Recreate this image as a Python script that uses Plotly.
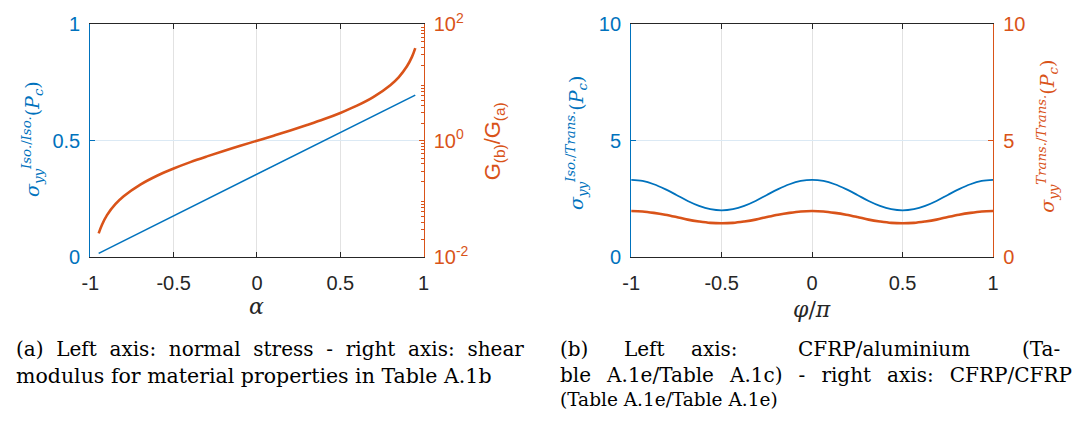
import plotly.graph_objects as go

# ---------------- data ----------------
# (a) normal stress vs alpha (left axis) and shear-modulus ratio (right, log axis)
alpha_stress = [-0.95, -0.5, 0.0, 0.5, 0.95]
stress_iso = [0.016, 0.177, 0.356, 0.536, 0.696]

alpha_g = [-0.95, -0.93, -0.9, -0.85, -0.8, -0.7, -0.6, -0.5, -0.4, -0.3, -0.2, -0.1,
           0.0, 0.1, 0.2, 0.3, 0.4, 0.5, 0.6, 0.7, 0.8, 0.85, 0.9, 0.93, 0.95]
g_ratio = [0.0256, 0.036, 0.0526, 0.081, 0.111, 0.176, 0.25, 0.333, 0.429, 0.538, 0.667, 0.818,
           1.0, 1.22, 1.5, 1.86, 2.33, 3.0, 4.0, 5.67, 9.0, 12.3, 19.0, 27.6, 39.0]

# (b) normal stress vs phi/pi for the two material pairings
phi = [-1.0, -0.9375, -0.875, -0.8125, -0.75, -0.6875, -0.625, -0.5625, -0.5,
       -0.4375, -0.375, -0.3125, -0.25, -0.1875, -0.125, -0.0625, 0.0,
       0.0625, 0.125, 0.1875, 0.25, 0.3125, 0.375, 0.4375, 0.5,
       0.5625, 0.625, 0.6875, 0.75, 0.8125, 0.875, 0.9375, 1.0]
stress_iso_trans = [3.32, 3.27, 3.13, 2.92, 2.67, 2.41, 2.20, 2.06, 2.01,
                    2.06, 2.20, 2.41, 2.67, 2.92, 3.13, 3.27, 3.32,
                    3.27, 3.13, 2.92, 2.67, 2.41, 2.20, 2.06, 2.01,
                    2.06, 2.20, 2.41, 2.67, 2.92, 3.13, 3.27, 3.32]
stress_trans_trans = [1.98, 1.96, 1.90, 1.82, 1.72, 1.61, 1.53, 1.47, 1.45,
                      1.47, 1.53, 1.61, 1.72, 1.82, 1.90, 1.96, 1.98,
                      1.96, 1.90, 1.82, 1.72, 1.61, 1.53, 1.47, 1.45,
                      1.47, 1.53, 1.61, 1.72, 1.82, 1.90, 1.96, 1.98]

x_ticks = [-1, -0.5, 0, 0.5, 1]
x_ticktext = ["-1", "-0.5", "0", "0.5", "1"]

# ---------------- style ----------------
W, H = 1072, 432
BLUE = "#0072BD"
ORANGE = "#D95319"
DARK = "#262626"
GRID = "#e2e2e2"
GRID_BLUE = "#dbe9f4"
SANS = "Liberation Sans"
SERIF = "DejaVu Serif"


def px(x):
    return x / W


def py(y):
    return 1 - y / H


Y_DOM = [py(258), py(11)]
X_DOM_A = [px(82.5), px(420.5)]
X_DOM_B = [px(631), px(998)]

fig = go.Figure()

fig.add_trace(go.Scatter(x=alpha_stress, y=stress_iso, mode="lines",
                         line=dict(color=BLUE, width=1.6), xaxis="x", yaxis="y",
                         showlegend=False))
fig.add_trace(go.Scatter(x=alpha_g, y=g_ratio, mode="lines",
                         line=dict(color=ORANGE, width=2.6, shape="spline"),
                         xaxis="x", yaxis="y2", showlegend=False))
fig.add_trace(go.Scatter(x=phi, y=stress_iso_trans, mode="lines",
                         line=dict(color=BLUE, width=1.8, shape="spline"),
                         xaxis="x2", yaxis="y3", showlegend=False))
fig.add_trace(go.Scatter(x=phi, y=stress_trans_trans, mode="lines",
                         line=dict(color=ORANGE, width=2.6, shape="spline"),
                         xaxis="x2", yaxis="y4", showlegend=False))


def xaxis_style(domain, anchor):
    return dict(domain=domain, anchor=anchor, range=[-1, 1],
                tickmode="array", tickvals=x_ticks, ticktext=x_ticktext,
                ticks="inside", ticklen=5, tickcolor=DARK, tickwidth=1,
                showline=True, linecolor=DARK, linewidth=1, mirror="ticks",
                showgrid=True, gridcolor=GRID, gridwidth=1, zeroline=False,
                tickfont=dict(family=SANS, size=20, color=DARK),
                ticklabelstandoff=8)


def yaxis_style(color, side, rng, tickvals, ticktext, anchor, overlaying=None,
                log=False, grid=False):
    d = dict(domain=Y_DOM, anchor=anchor, side=side, range=rng,
             tickmode="array", tickvals=tickvals, ticktext=ticktext,
             ticks="inside", ticklen=5, tickcolor=color, tickwidth=1,
             showline=True, linecolor=color, linewidth=1.2,
             showgrid=grid, gridcolor=GRID_BLUE, gridwidth=1, zeroline=False,
             tickfont=dict(family=SANS, size=20, color=color),
             ticklabelstandoff=5)
    if overlaying:
        d["overlaying"] = overlaying
    if log:
        d["type"] = "log"
        minor_vals = [m * 10 ** e for e in (-2, -1, 0, 1) for m in range(2, 10)]
        d["minor"] = dict(tickmode="array", tickvals=minor_vals, ticks="inside",
                          ticklen=3, tickcolor=color, tickwidth=1, showgrid=False)
    return d


fig.update_layout(
    width=W, height=H,
    margin=dict(l=0, r=0, t=0, b=0),
    paper_bgcolor="white", plot_bgcolor="white",
    xaxis=xaxis_style(X_DOM_A, "y"),
    xaxis2=xaxis_style(X_DOM_B, "y3"),
    yaxis=yaxis_style(BLUE, "left", [0, 1], [0, 0.5, 1], ["0", "0.5", "1"], "x", grid=True),
    yaxis2=yaxis_style(ORANGE, "right", [-2, 2], [0.01, 1, 100],
                       ["10<sup>-2</sup>", "10<sup>0</sup>", "10<sup>2</sup>"],
                       "x", overlaying="y", log=True),
    yaxis3=yaxis_style(BLUE, "left", [0, 10], [0, 5, 10], ["0", "5", "10"], "x2", grid=True),
    yaxis4=yaxis_style(ORANGE, "right", [0, 10], [0, 5, 10], ["0", "5", "10"], "x2",
                       overlaying="y3"),
)

annotations = []


def label(text, x, y, color, family, size, angle=0, xanchor="center"):
    annotations.append(dict(text=text, x=px(x), y=py(y), xref="paper", yref="paper",
                            showarrow=False, textangle=angle, xanchor=xanchor,
                            yanchor="middle",
                            font=dict(family=family, size=size, color=color)))


# axis titles
label("<i>α</i>", 251.5, 310, DARK, SERIF, 22)
label("<i>φ</i>/<i>π</i>", 814.5, 314, DARK, SERIF, 22)
label("<i>σ</i><sub><i>yy</i></sub><sup><i>Iso.</i>/<i>Iso.</i></sup>(<i>P</i><sub><i>c</i></sub>)",
      24, 133, BLUE, SERIF, 19, angle=-90)
label("G<sub>(b)</sub>/G<sub>(a)</sub>", 492, 135, ORANGE, SANS, 22, angle=-90)
label("<i>σ</i><sub><i>yy</i></sub><sup><i>Iso.</i>/<i>Trans.</i></sup>(<i>P</i><sub><i>c</i></sub>)",
      575, 137, BLUE, SERIF, 19, angle=-90)
label("<i>σ</i><sub><i>yy</i></sub><sup><i>Trans.</i>/<i>Trans.</i></sup>(<i>P</i><sub><i>c</i></sub>)",
      1053, 130, ORANGE, SERIF, 19, angle=-90)

# captions: justified lines get widened inter-word gaps (or word-by-word placement),
# closing lines run ragged
CAP = 20


def justified(words, y, x_end):
    for w, x in words[:-1]:
        label(w, x, y, "black", SERIF, CAP, xanchor="left")
    label(words[-1][0], x_end, y, "black", SERIF, CAP, xanchor="right")


label(" \u00a0".join(["(a)", "Left", "axis:", "normal", "stress", "-", "right", "axis:",
                      "shear"]),
      5, 356, "black", SERIF, CAP, xanchor="left")
label("modulus for material properties in Table A.1b", 5, 384, "black", SERIF, 20.5,
      xanchor="left")

justified([("(b)", 557), ("Left", 622), ("axis:", 690), ("CFRP/aluminium", 798),
           ("(Ta-", None)], 356, 1068)
label(" \u00a0\u2006".join(["ble", "A.1e/Table", "A.1c)", "-", "right", "axis:", "CFRP/CFRP"]),
      557, 383, "black", SERIF, CAP, xanchor="left")
label("(Table A.1e/Table A.1e)", 557, 409, "black", SERIF, 18.5, xanchor="left")

fig.update_layout(annotations=annotations)

fig.write_html("out.html")
